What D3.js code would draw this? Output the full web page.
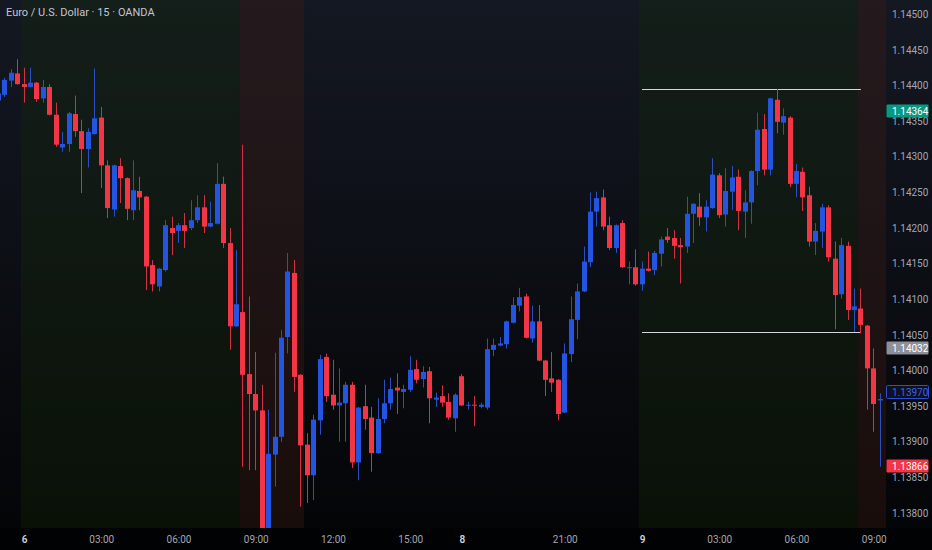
<!DOCTYPE html>
<html>
<head>
<meta charset="utf-8">
<script src="https://cdn.jsdelivr.net/npm/d3@7"></script>
<style>
  html, body { margin: 0; padding: 0; background: #000; }
  svg { display: block; font-family: Roboto, "Noto Sans", sans-serif; }
</style>
</head>
<body>
<div id="chart"></div>
<script>
// EURUSD 15m, OANDA
const title = 'Euro / U.S. Dollar \u00b7 15 \u00b7 OANDA';

// bar index of the first candle (bar 0 = Jun 6 00:00)
const firstBar = -4;

const opens = [
  1.14379, 1.14387, 1.14407, 1.14417, 1.14402, 1.14398, 1.14404, 1.14382, 1.14398, 1.14359,
  1.14313, 1.14318, 1.14360, 1.14336, 1.14311, 1.14332, 1.14355, 1.14288, 1.14226, 1.14287,
  1.14270, 1.14225, 1.14252, 1.14244, 1.14148, 1.14118, 1.14141, 1.14200, 1.14196, 1.14204,
  1.14200, 1.14211, 1.14229, 1.14202, 1.14206, 1.14262, 1.14179, 1.14062, 1.14082, 1.13995,
  1.13967, 1.13944, 1.13760, 1.13882, 1.13907, 1.14047, 1.14137, 1.13994, 1.13896, 1.13853,
  1.13930, 1.14019, 1.13966, 1.13951, 1.13954, 1.13980, 1.13871, 1.13950, 1.13934, 1.13884,
  1.13932, 1.13954, 1.13976, 1.13970, 1.13973, 1.14002, 1.13988, 1.13999, 1.13959, 1.13964,
  1.13956, 1.13933, 1.13992, 1.13951, 1.13952, 1.13949, 1.13948, 1.14029, 1.14035, 1.14037,
  1.14067, 1.14091, 1.14104, 1.14045, 1.14069, 1.14014, 1.13989, 1.13987, 1.13941, 1.14023,
  1.14071, 1.14111, 1.14152, 1.14223, 1.14243, 1.14204, 1.14172, 1.14207, 1.14144, 1.14145,
  1.14121, 1.14143, 1.14141, 1.14164, 1.14188, 1.14186, 1.14176, 1.14174, 1.14220, 1.14230,
  1.14215, 1.14228, 1.14274, 1.14219, 1.14251, 1.14272, 1.14223, 1.14236, 1.14280, 1.14339,
  1.14282, 1.14380, 1.14348, 1.14355, 1.14262, 1.14279, 1.14246, 1.14181, 1.14195, 1.14229,
  1.14157, 1.14107, 1.14175, 1.14085, 1.14087, 1.14063, 1.14003, 1.13958
];
const highs = [
  1.14392, 1.14411, 1.14423, 1.14437, 1.14425, 1.14425, 1.14405, 1.14408, 1.14402, 1.14376,
  1.14335, 1.14363, 1.14386, 1.14352, 1.14340, 1.14424, 1.14370, 1.14295, 1.14289, 1.14298,
  1.14271, 1.14295, 1.14272, 1.14245, 1.14155, 1.14144, 1.14211, 1.14216, 1.14207, 1.14221,
  1.14239, 1.14246, 1.14246, 1.14237, 1.14291, 1.14272, 1.14200, 1.14169, 1.14317, 1.14104,
  1.14026, 1.13980, 1.13945, 1.14025, 1.14057, 1.14165, 1.14155, 1.13995, 1.13912, 1.13938,
  1.14022, 1.14024, 1.14015, 1.14003, 1.13984, 1.13984, 1.13949, 1.13980, 1.13949, 1.13961,
  1.13987, 1.13990, 1.13996, 1.13980, 1.14020, 1.14015, 1.14006, 1.14005, 1.13969, 1.13979,
  1.13968, 1.13968, 1.13995, 1.13956, 1.13964, 1.13955, 1.14045, 1.14045, 1.14047, 1.14070,
  1.14103, 1.14116, 1.14108, 1.14091, 1.14092, 1.14015, 1.14026, 1.13988, 1.14038, 1.14104,
  1.14122, 1.14174, 1.14250, 1.14251, 1.14254, 1.14216, 1.14205, 1.14211, 1.14153, 1.14170,
  1.14153, 1.14167, 1.14168, 1.14188, 1.14200, 1.14197, 1.14186, 1.14244, 1.14235, 1.14249,
  1.14239, 1.14298, 1.14277, 1.14284, 1.14287, 1.14282, 1.14253, 1.14281, 1.14362, 1.14360,
  1.14383, 1.14395, 1.14368, 1.14357, 1.14290, 1.14285, 1.14258, 1.14207, 1.14234, 1.14232,
  1.14181, 1.14186, 1.14181, 1.14115, 1.14115, 1.14064, 1.14031, 1.13968
];
const lows = [
  1.14376, 1.14384, 1.14398, 1.14401, 1.14376, 1.14397, 1.14377, 1.14376, 1.14358, 1.14314,
  1.14307, 1.14307, 1.14328, 1.14249, 1.14285, 1.14331, 1.14256, 1.14214, 1.14216, 1.14235,
  1.14211, 1.14211, 1.14225, 1.14113, 1.14111, 1.14111, 1.14139, 1.14162, 1.14179, 1.14172,
  1.14197, 1.14207, 1.14193, 1.14201, 1.14205, 1.14172, 1.14029, 1.14061, 1.13865, 1.13860,
  1.13860, 1.13755, 1.13745, 1.13837, 1.13900, 1.14024, 1.13970, 1.13809, 1.13814, 1.13818,
  1.13910, 1.13956, 1.13945, 1.13900, 1.13900, 1.13863, 1.13846, 1.13917, 1.13858, 1.13883,
  1.13926, 1.13945, 1.13939, 1.13947, 1.13970, 1.13982, 1.13976, 1.13926, 1.13949, 1.13949,
  1.13931, 1.13914, 1.13950, 1.13945, 1.13922, 1.13947, 1.13945, 1.14020, 1.14034, 1.14031,
  1.14066, 1.14083, 1.14045, 1.14039, 1.14013, 1.13964, 1.13970, 1.13930, 1.13940, 1.14012,
  1.14044, 1.14110, 1.14145, 1.14202, 1.14197, 1.14169, 1.14165, 1.14144, 1.14121, 1.14119,
  1.14112, 1.14139, 1.14134, 1.14146, 1.14179, 1.14157, 1.14122, 1.14165, 1.14179, 1.14203,
  1.14195, 1.14227, 1.14214, 1.14202, 1.14225, 1.14197, 1.14186, 1.14206, 1.14260, 1.14274,
  1.14274, 1.14333, 1.14331, 1.14257, 1.14243, 1.14224, 1.14174, 1.14162, 1.14172, 1.14153,
  1.14058, 1.14101, 1.14071, 1.14054, 1.14052, 1.13945, 1.13914, 1.13865
];
const closes = [
  1.14389, 1.14408, 1.14418, 1.14402, 1.14398, 1.14404, 1.14381, 1.14398, 1.14359, 1.14317,
  1.14318, 1.14361, 1.14336, 1.14311, 1.14335, 1.14354, 1.14288, 1.14228, 1.14288, 1.14270,
  1.14227, 1.14253, 1.14243, 1.14146, 1.14121, 1.14143, 1.14204, 1.14193, 1.14204, 1.14196,
  1.14211, 1.14229, 1.14202, 1.14207, 1.14262, 1.14179, 1.14062, 1.14093, 1.13994, 1.13967,
  1.13944, 1.13770, 1.13883, 1.13907, 1.14046, 1.14139, 1.13991, 1.13895, 1.13853, 1.13931,
  1.14016, 1.13964, 1.13951, 1.13955, 1.13980, 1.13871, 1.13948, 1.13932, 1.13884, 1.13932,
  1.13954, 1.13974, 1.13972, 1.13974, 1.14001, 1.13987, 1.13998, 1.13961, 1.13962, 1.13955,
  1.13934, 1.13966, 1.13951, 1.13952, 1.13951, 1.13952, 1.14030, 1.14036, 1.14038, 1.14069,
  1.14092, 1.14103, 1.14046, 1.14069, 1.14014, 1.13987, 1.13983, 1.13939, 1.14024, 1.14072,
  1.14111, 1.14153, 1.14223, 1.14242, 1.14202, 1.14172, 1.14204, 1.14145, 1.14145, 1.14121,
  1.14143, 1.14140, 1.14165, 1.14184, 1.14183, 1.14175, 1.14173, 1.14220, 1.14234, 1.14215,
  1.14230, 1.14275, 1.14218, 1.14252, 1.14271, 1.14224, 1.14236, 1.14280, 1.14338, 1.14282,
  1.14382, 1.14349, 1.14357, 1.14262, 1.14280, 1.14243, 1.14181, 1.14196, 1.14229, 1.14159,
  1.14106, 1.14176, 1.14085, 1.14090, 1.14064, 1.14003, 1.13953, 1.13960
];

const priceTicks = [1.138, 1.1385, 1.139, 1.1395, 1.14, 1.1405, 1.141, 1.1415,
                    1.142, 1.1425, 1.143, 1.1435, 1.144, 1.1445, 1.145];
const timeTickBars = [0, 12, 24, 36, 48, 60, 68, 84, 96, 108, 120, 132];
const timeTickLabels = ['6', '03:00', '06:00', '09:00', '12:00', '15:00', '8',
                        '21:00', '9', '03:00', '06:00', '09:00'];
const dayLabels = ['6', '8', '9'];

// session shading, as [first bar, last bar]
const greenSessions = [[0, 33], [96, 129]];
const redSessions = [[34, 43], [130, 134]];
// range lines drawn over this session
const rangeSession = [96, 129];

// price scale markers
const markerPrices = [1.14364, 1.14032, 1.13970, 1.13866];
const markerKinds = ['green', 'grey', 'outline', 'red'];

// ---- layout
const W = 932, H = 550;
const plotW = 886, plotH = 528;
const upColor = '#2455e0', downColor = '#f23645';

const bars = opens.map((o, k) => ({
  i: firstBar + k, o, h: highs[k], l: lows[k], c: closes[k]
}));

const x = d3.scaleLinear().domain([0, 132]).range([24, 873.75]);
const step = x(1) - x(0);
const y = d3.scaleLinear().domain([1.138, 1.145]).range([513, 14.3]);

const svg = d3.select('#chart').append('svg')
  .attr('width', W).attr('height', H);

const defs = svg.append('defs');
const grad = defs.append('linearGradient')
  .attr('id', 'bg').attr('x1', 0).attr('y1', 0).attr('x2', 0).attr('y2', 1);
grad.append('stop').attr('offset', '0%').attr('stop-color', '#141822');
grad.append('stop').attr('offset', '100%').attr('stop-color', '#040507');

defs.append('clipPath').attr('id', 'plot')
  .append('rect').attr('width', plotW).attr('height', plotH);

// background
svg.append('rect').attr('width', W).attr('height', plotH).attr('fill', 'url(#bg)');
svg.append('rect').attr('y', plotH).attr('width', W).attr('height', H - plotH).attr('fill', '#010203');

const plot = svg.append('g').attr('clip-path', 'url(#plot)');

// sessions
function shade(list, color) {
  plot.append('g').selectAll('rect')
    .data(list)
    .enter()
    .append('rect')
    .attr('x', d => x(d[0]) - step / 2)
    .attr('width', d => x(d[1]) - x(d[0]) + step)
    .attr('y', 0)
    .attr('height', plotH)
    .attr('fill', color)
    .attr('fill-opacity', 0.32);
}
shade(greenSessions, 'rgb(22,44,8)');
shade(redSessions, 'rgb(70,30,22)');

// session high / low lines
const inRange = bars.filter(b => b.i >= rangeSession[0] && b.i <= rangeSession[1]);
const rangeLevels = [d3.max(inRange, b => b.h), d3.min(inRange, b => b.l)];
plot.append('g').selectAll('line')
  .data(rangeLevels)
  .enter()
  .append('line')
  .attr('x1', x(rangeSession[0]))
  .attr('x2', x(rangeSession[1] + 1))
  .attr('y1', d => Math.round(y(d)) + 0.5)
  .attr('y2', d => Math.round(y(d)) + 0.5)
  .attr('stroke', '#d4d6db')
  .attr('stroke-width', 1.2);

// candles
const bw = 5;
const candle = plot.append('g').selectAll('g')
  .data(bars)
  .enter()
  .append('g');

candle.append('line')
  .attr('x1', d => Math.round(x(d.i) - bw / 2) + 2.5)
  .attr('x2', d => Math.round(x(d.i) - bw / 2) + 2.5)
  .attr('y1', d => y(d.h))
  .attr('y2', d => y(d.l))
  .attr('stroke', d => (d.c >= d.o ? '#2a4fc4' : '#cf3243'))
  .attr('stroke-width', 1);

candle.append('rect')
  .attr('x', d => Math.round(x(d.i) - bw / 2))
  .attr('width', bw)
  .attr('y', d => y(Math.max(d.o, d.c)))
  .attr('height', d => Math.max(1, Math.abs(y(d.o) - y(d.c))))
  .attr('fill', d => (d.c >= d.o ? upColor : downColor));

// price axis
const yAxis = svg.append('g')
  .attr('transform', `translate(${plotW},0)`)
  .call(d3.axisRight(y).tickValues(priceTicks).tickFormat(d3.format('.5f'))
    .tickSize(0).tickPadding(6));
yAxis.select('.domain').remove();
yAxis.selectAll('text')
  .attr('fill', '#a3a6af')
  .attr('font-size', '10px')
  .attr('font-family', 'Roboto, "Noto Sans", sans-serif');

// time axis
const isDay = d => dayLabels.includes(timeTickLabels[timeTickBars.indexOf(d)]);
const xAxis = svg.append('g')
  .attr('transform', `translate(0,${plotH})`)
  .call(d3.axisBottom(x).tickValues(timeTickBars).tickFormat((d, k) => timeTickLabels[k])
    .tickSize(0).tickPadding(8));
xAxis.select('.domain').remove();
xAxis.selectAll('text')
  .attr('font-size', '10px')
  .attr('font-family', 'Roboto, "Noto Sans", sans-serif')
  .attr('fill', d => (isDay(d) ? '#d1d4dc' : '#a3a6af'))
  .attr('font-weight', d => (isDay(d) ? 600 : 400));

// price markers on the scale
const markerFill = { green: '#089981', grey: '#8e9099', outline: '#0d1124', red: '#f23645' };
const markerText = { green: '#ffffff', grey: '#ffffff', outline: '#3d63e6', red: '#ffffff' };
const marker = svg.append('g').selectAll('g')
  .data(markerPrices)
  .enter()
  .append('g')
  .attr('transform', d => `translate(${plotW},${Math.round(y(d))})`);

marker.append('rect')
  .attr('x', 0.5).attr('y', -6.5)
  .attr('width', 42).attr('height', 13)
  .attr('rx', 1)
  .attr('fill', (d, k) => markerFill[markerKinds[k]])
  .attr('stroke', (d, k) => (markerKinds[k] === 'outline' ? '#2a4fd6' : 'none'));

marker.append('text')
  .attr('x', 6).attr('dy', '0.35em')
  .attr('font-size', '10px')
  .attr('fill', (d, k) => markerText[markerKinds[k]])
  .text(d => d3.format('.5f')(d));

// title
svg.append('text')
  .attr('x', 6).attr('y', 16)
  .attr('font-size', '11px')
  .attr('fill', '#c3c6ce')
  .text(title);
</script>
</body>
</html>
